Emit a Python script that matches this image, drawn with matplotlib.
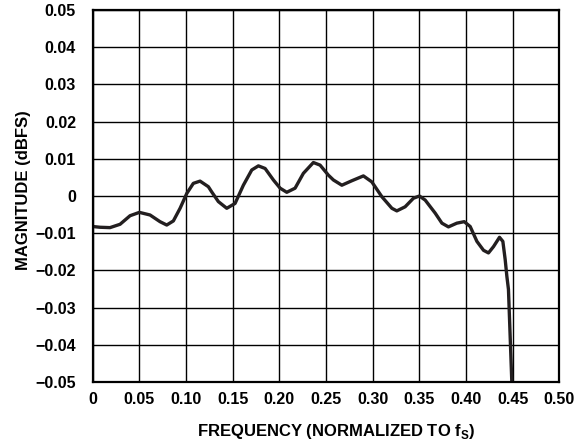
import matplotlib
matplotlib.use("Agg")
import matplotlib.pyplot as plt

# magnitude response
freq = [0.000, 0.0078, 0.0185, 0.0293, 0.040, 0.050, 0.0614, 0.0721,
        0.0793, 0.0864, 0.0936, 0.1008, 0.1078, 0.115, 0.1239, 0.1275,
        0.1346, 0.1436, 0.1525, 0.1614, 0.1704, 0.1775, 0.1847, 0.1936,
        0.2008, 0.2079, 0.2168, 0.2257, 0.2364, 0.2436, 0.2525, 0.2579,
        0.2669, 0.2776, 0.290, 0.299, 0.3098, 0.3205, 0.3258, 0.3347,
        0.3436, 0.350, 0.3562, 0.3669, 0.3741, 0.3811, 0.3901, 0.398,
        0.4044, 0.4116, 0.4187, 0.424, 0.4294, 0.4358, 0.4394, 0.4419,
        0.4437, 0.4454, 0.449]
mag = [-0.0082, -0.0084, -0.0085, -0.0076, -0.0053, -0.0044, -0.0051,
       -0.0069, -0.0078, -0.0067, -0.0033, 0.0007, 0.0034, 0.0040, 0.0025,
       0.0011, -0.0015, -0.0033, -0.0020, 0.0029, 0.0070, 0.0081, 0.0074,
       0.0043, 0.0021, 0.0010, 0.0021, 0.0061, 0.0090, 0.0083, 0.0056,
       0.0043, 0.0029, 0.0041, 0.0054, 0.0038, -0.0002, -0.0033, -0.0040,
       -0.0029, -0.0006, 0.0000, -0.0011, -0.0046, -0.0073, -0.0083,
       -0.0073, -0.0069, -0.0082, -0.0122, -0.0146, -0.0153, -0.0136,
       -0.0111, -0.0122, -0.0171, -0.0216, -0.0251, -0.0500]

xticks = [0, 0.05, 0.10, 0.15, 0.20, 0.25, 0.30, 0.35, 0.40, 0.45, 0.50]
xtick_labels = ['0', '0.05', '0.10', '0.15', '0.20', '0.25', '0.30',
                '0.35', '0.40', '0.45', '0.50']
yticks = [-0.05, -0.04, -0.03, -0.02, -0.01, 0, 0.01, 0.02, 0.03, 0.04, 0.05]
ytick_labels = ['\u22120.05', '\u22120.04', '\u22120.03', '\u22120.02',
                '\u22120.01', '0', '0.01', '0.02', '0.03', '0.04', '0.05']

plt.rcParams['font.family'] = ['Liberation Sans', 'DejaVu Sans']
plt.rcParams['font.weight'] = 'bold'
plt.rcParams['mathtext.fontset'] = 'custom'
plt.rcParams['mathtext.rm'] = 'Liberation Sans:bold'

fig = plt.figure(figsize=(5.82, 4.44), dpi=100)
ax = fig.add_axes([0.1593, 0.1396, 0.9612 - 0.1593, 0.9775 - 0.1396])

ax.plot(freq, mag, color='#231f20', linewidth=2.4, solid_joinstyle='round',
        solid_capstyle='butt')

ax.set_xlim(0, 0.5)
ax.set_ylim(-0.05, 0.05)
ax.set_xticks(xticks)
ax.set_xticklabels(xtick_labels)
ax.set_yticks(yticks)
ax.set_yticklabels(ytick_labels)
ax.tick_params(length=0, labelsize=11.5)
ax.tick_params(axis='y', pad=12)
ax.tick_params(axis='x', pad=7)
ax.grid(True, color='black', linewidth=1.0)
ax.set_axisbelow(True)
for sp in ax.spines.values():
    sp.set_linewidth(1.6)

fig.text(336 / 582, 1 - 431 / 444, r'FREQUENCY (NORMALIZED TO f$_\mathrm{S}$)',
         ha='center', va='center', fontsize=12, fontweight='bold')
fig.text(24 / 582, 1 - 190 / 444, 'MAGNITUDE (dBFS)', rotation=90,
         ha='center', va='center', fontsize=12, fontweight='bold')

fig.savefig('out.png', dpi=100)
